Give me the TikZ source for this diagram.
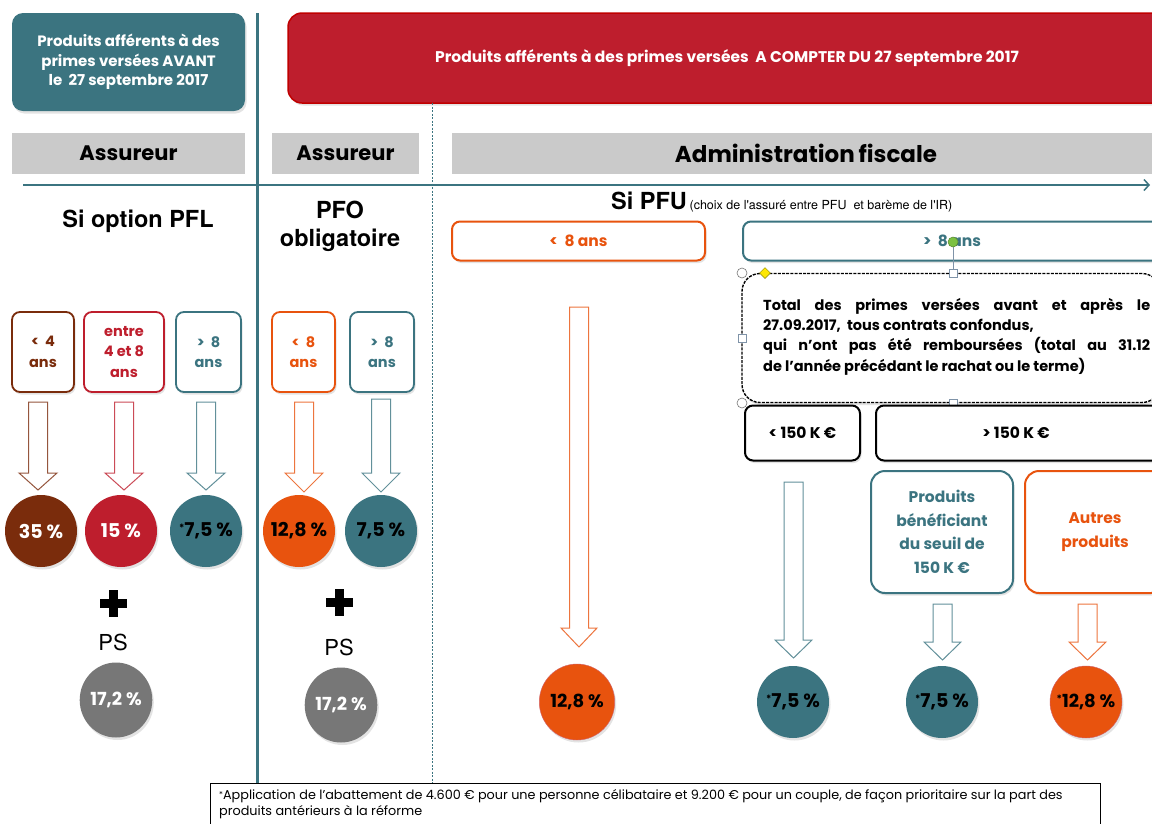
\documentclass[tikz,border=0pt]{standalone}
\usepackage{fontspec}
\setmainfont{Poppins}
\newfontfamily\arial{TeX Gyre Heros}
\usetikzlibrary{shadows,arrows.meta,shapes.geometric}
\definecolor{cTeal}{HTML}{3B7480}
\definecolor{cRed}{HTML}{BE1E2D}
\definecolor{cRedB}{HTML}{C00000}
\definecolor{cBrown}{HTML}{7A2C0C}
\definecolor{cOrange}{HTML}{E8530E}
\definecolor{cGray}{HTML}{777777}
\definecolor{cHead}{HTML}{CACACA}
\definecolor{cGreen}{HTML}{7CC142}
\definecolor{cHandle}{HTML}{7F93A8}
\newcommand\blockarrow[7]{%
  \draw[#1, fill=white, line width=1pt, line join=miter]
    (#2-#6,#3) -- (#2+#6,#3) -- (#2+#6,#4) -- (#2+#7,#4) -- (#2,#5)
    -- (#2-#7,#4) -- (#2-#6,#4) -- cycle;}
\newcommand\myast{\raisebox{5pt}{\fontsize{10}{10}\selectfont*}}
\tikzset{
  shdw/.style={drop shadow={opacity=0.22, shadow xshift=1.5pt, shadow yshift=-2.5pt}},
  sbox/.style={draw=#1, text=#1, line width=1.8pt, rounded corners=8pt, fill=white,
    minimum width=62pt, minimum height=80pt, align=center, inner sep=1pt,
    font=\bfseries\fontsize{14.5}{20.5}\selectfont, shdw},
  disc/.style={circle, fill=#1, minimum size=72pt, inner sep=0pt, shdw,
    font=\bfseries\fontsize{19}{19}\selectfont},
  head/.style={fill=cHead, minimum height=41pt, inner sep=0pt,
    font=\bfseries\fontsize{21}{21}\selectfont},
  wbox/.style={draw=#1, line width=2pt, rounded corners=8pt, fill=white, shdw, inner sep=0pt},
  ellip/.style={ellipse, fill=cGray, text=white, shdw, inner sep=0pt},
  handlesq/.style={draw=cHandle, fill=white, line width=0.6pt, minimum size=8pt, inner sep=0pt},
  handlec/.style={circle, draw=cGray, fill=white, line width=0.6pt, minimum size=10pt, inner sep=0pt},
}
\begin{document}
\begin{tikzpicture}[x=1pt,y=-1pt]
\useasboundingbox (0,0) rectangle (1152,823);
\fill[white] (0,0) rectangle (1152,823);

% top title boxes
\node[fill=cTeal, rounded corners=11pt, minimum width=233pt, minimum height=98pt, shdw,
      text=white, align=center, font=\bfseries\fontsize{15}{19.5}\selectfont] (avant) at (128.5,62)
      {Produits afférents à des\\primes versées AVANT\\le~ 27 septembre 2017};
\node[fill=cRed, draw=cRedB, line width=1.5pt, rounded corners=14pt, minimum width=878pt,
      minimum height=90pt, text=white, shdw, font=\bfseries\fontsize{15.5}{16}\selectfont] (apres) at (727,58)
      {Produits afférents à des primes versées~ A COMPTER DU 27 septembre 2017};

% header bars
\node[head, minimum width=233pt] (ass1) at (128.5,153.5) {Assureur};
\node[head, minimum width=147pt] (ass2) at (345.5,153.5) {Assureur};
\node[head, minimum width=708pt, font=\bfseries\fontsize{23}{23}\selectfont] (adm) at (806,153.5) {Administration\,fiscale};

% dividing lines
\draw[cTeal, line width=0.8pt, dash pattern=on 2pt off 1.5pt] (432,103) -- (432,784);
\draw[cTeal, line width=3pt] (257,13) -- (257,784);
\coordinate (hl) at (23,185);
\coordinate (hr) at (1150,185);
\draw[cTeal, line width=2.5pt, -{Straight Barb[length=5pt,width=11pt,line width=1.5pt]}] (hl) -- (hr);

% section titles
\node[font=\arial\bfseries\fontsize{23.5}{23.5}\selectfont] (pfl) at (138,221) {Si option PFL};
\node[font=\arial\bfseries\fontsize{23.5}{28}\selectfont, align=center] (pfo) at (340,226) {PFO\\obligatoire};
\node[anchor=base west, inner sep=0pt] (pfu) at (611,209)
  {{\arial\bfseries\fontsize{23.5}{23.5}\selectfont Si PFU} {\arial\fontsize{12.5}{12.5}\selectfont(choix de l'assuré entre PFU~ et barème de l'IR)}};

% small boxes
\node[sbox=cBrown] (b1) at (43,352) {<~ 4\\ans};
\node[sbox=cRed, minimum width=80pt] (b2) at (124,352) {entre\\4 et 8\\ans};
\node[sbox=cTeal, minimum width=65pt] (b3) at (208.5,352) {>~ 8\\ans};
\node[sbox=cOrange, minimum width=63pt] (b4) at (303.5,352) {<~ 8\\ans};
\node[sbox=cTeal, minimum width=64pt] (b5) at (382,352) {>~ 8\\ans};

% block arrows (left part)
\blockarrow{cBrown!80}{38}{402}{473}{490}{9.5}{19}
\blockarrow{cRed!80}{124}{402}{473}{490}{9.5}{19}
\blockarrow{cTeal!80}{206}{402}{473}{490}{9.5}{19}
\blockarrow{cOrange!80}{304}{402}{473}{492}{9.5}{19}
\blockarrow{cTeal!80}{381}{399}{473}{492}{9.5}{19}

% discs
\node[disc=cBrown, text=white] (c1) at (41,531) {35 \%};
\node[disc=cRed, text=white] (c2) at (121,531) {15 \%};
\node[disc=cTeal] (c3) at (206,531) {\myast7,5 \%};
\node[disc=cOrange] (c4) at (299,531) {12,8 \%};
\node[disc=cTeal] (c5) at (381,531) {7,5 \%};

% plus + PS
\node[inner sep=0pt, minimum size=27pt] (plus1) at (113,603) {};
\fill (plus1.center) ++(-4.5,-13.5) rectangle ++(9,27);
\fill (plus1.center) ++(-13.5,-4.5) rectangle ++(27,9);
\node[inner sep=0pt, minimum size=27pt] (plus2) at (339,602) {};
\fill (plus2.center) ++(-4.5,-13.5) rectangle ++(9,27);
\fill (plus2.center) ++(-13.5,-4.5) rectangle ++(27,9);
\node[font=\arial\fontsize{22}{22}\selectfont] (ps1) at (113,642) {PS};
\node[font=\arial\fontsize{22}{22}\selectfont] (ps2) at (339,647) {PS};
\node[ellip, minimum width=68pt, minimum height=75pt, font=\bfseries\fontsize{18}{18}\selectfont] (g1) at (116,700) {17,2 \%};
\node[ellip, minimum width=68pt, minimum height=75pt, font=\bfseries\fontsize{18}{18}\selectfont] (g2) at (341,705) {17,2 \%};

% PFU part
\node[wbox=cOrange, minimum width=253pt, minimum height=39pt, text=cOrange,
      font=\bfseries\fontsize{15.5}{15.5}\selectfont] (lt8) at (578.5,241) {<~ 8 ans};
\node[wbox=cTeal, minimum width=418pt, minimum height=39pt, text=cTeal,
      font=\bfseries\fontsize{15.5}{15.5}\selectfont] (gt8) at (952,241) {>~ 8 ans};

\node[draw=black, dash pattern=on 3pt off 1.2pt, line width=1.4pt, rounded corners=18pt, fill=white, shdw,
      minimum width=418pt, minimum height=129pt, inner sep=0pt] (tot) at (951,338) {};
\node[anchor=north west, inner sep=0pt, align=left, font=\bfseries\fontsize{14.5}{20.3}\selectfont] (tottxt) at (763,298)
  {\makebox[387pt][s]{Total des primes versées avant et après le}\\
   27.09.2017,~ tous contrats confondus,\\
   \makebox[387pt][s]{qui n'ont pas été remboursées (total au 31.12}\\
   de l'année précédant le rachat ou le terme)};

% selection handles
\draw[cHandle, line width=0.6pt] (953,246) -- (953,273);
\node[circle, fill=cGreen, draw=cGreen!70!black, line width=0.5pt, minimum size=10pt, inner sep=0pt] (rot) at (953,242) {};
\node[handlec] (h1) at (742,273) {};
\node[handlec] (h2) at (742,403) {};
\node[handlesq] (h3) at (953,273) {};
\node[handlesq] (h4) at (742,338) {};
\node[handlesq] (h5) at (953,403) {};
\node[diamond, fill=yellow!90!orange, draw=olive, line width=0.5pt, minimum size=11pt, inner sep=0pt] (h6) at (765,273) {};

\node[wbox=black, minimum width=115pt, minimum height=55pt, font=\bfseries\fontsize{15.5}{15.5}\selectfont] (lt150) at (802.5,433) {< 150 K €};
\node[wbox=black, minimum width=290pt, minimum height=55pt, font=\bfseries\fontsize{15.5}{15.5}\selectfont] (gt150) at (1021,433) {\hspace*{-10pt}> 150 K €};

\node[wbox=cTeal, rounded corners=14pt, minimum width=142pt, minimum height=122pt, text=cTeal, align=center,
      font=\bfseries\fontsize{15.5}{23.5}\selectfont] (seuil) at (942,532) {Produits\\bénéficiant\\du seuil de\\150 K €};
\node[wbox=cOrange, rounded corners=14pt, minimum width=140pt, minimum height=122pt, text=cOrange, align=center,
      font=\bfseries\fontsize{15.5}{23.5}\selectfont] (autres) at (1095,532) {Autres\\produits};

\blockarrow{cOrange!80}{579}{307}{628}{647}{9.5}{18}
\blockarrow{cTeal!80}{793.5}{482}{640}{658}{9.5}{18.5}
\blockarrow{cTeal!80}{942.5}{604}{642}{660}{9.5}{18.5}
\blockarrow{cOrange!80}{1087.5}{604}{642}{660}{9.5}{18.5}

\node[ellip, fill=cOrange, draw=cRed!70, minimum width=75pt, minimum height=76pt, text=black,
      font=\bfseries\fontsize{18}{18}\selectfont] (d1) at (577,702) {12,8 \%};
\node[disc=cTeal] (d2) at (793,702) {\myast7,5 \%};
\node[disc=cTeal] (d3) at (942,702) {\myast7,5 \%};
\node[disc=cOrange, draw=cRed!70, font=\bfseries\fontsize{18}{18}\selectfont] (d4) at (1086,702) {\myast12,8 \%};

% footnote
\node[draw=black, line width=1pt, fill=white, anchor=north west, minimum width=890pt, minimum height=50pt,
      inner sep=0pt] (foot) at (210,783) {};
\node[anchor=north west, inner sep=0pt, align=left, font=\fontsize{12.8}{16}\selectfont] (foottxt) at (219,789)
  {\raisebox{2pt}{\fontsize{8}{8}\selectfont*}Application de l'abattement de 4.600 € pour une personne célibataire et 9.200 € pour un couple, de façon prioritaire sur la part des\\
   produits antérieurs à la réforme};
\end{tikzpicture}
\end{document}
